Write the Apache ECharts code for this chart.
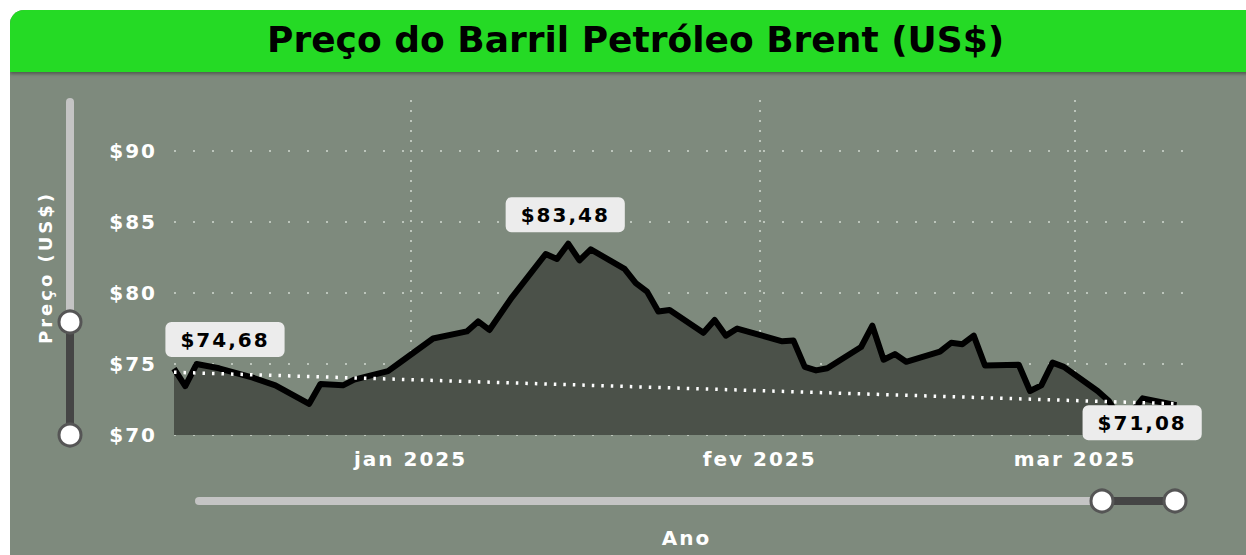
<!DOCTYPE html>
<html>
<head>
<meta charset="utf-8">
<title>Preço do Barril Petróleo Brent</title>
<script src="https://cdn.jsdelivr.net/npm/echarts@6/dist/echarts.min.js"></script>
<style>
  html, body { margin: 0; padding: 0; background: #fff; overflow: hidden; }
  .card { position: absolute; left: 10px; top: 10px; width: 1250px; height: 560px; background: #7e8a7d; border-radius: 14px 14px 0 0; overflow: hidden; }
  .head { height: 62px; background: #25da25; box-shadow: 0 2px 3px rgba(0,0,0,.35); }
  #chart { position: absolute; left: 0; top: 0; width: 1246px; height: 555px; }
</style>
</head>
<body>
<div class="card"><div class="head"></div></div>
<div id="chart"></div>
<script type="text/javascript">
  // cotações diárias
  var dates = [
    '2024-12-11', '2024-12-12', '2024-12-13', '2024-12-15', '2024-12-18', '2024-12-20',
    '2024-12-23', '2024-12-24', '2024-12-26', '2024-12-27', '2024-12-30', '2024-12-31',
    '2025-01-03', '2025-01-06', '2025-01-07', '2025-01-08', '2025-01-10', '2025-01-13',
    '2025-01-14', '2025-01-15', '2025-01-16', '2025-01-17', '2025-01-20', '2025-01-21',
    '2025-01-22', '2025-01-23', '2025-01-24', '2025-01-27', '2025-01-28', '2025-01-29',
    '2025-01-30', '2025-02-03', '2025-02-04', '2025-02-05', '2025-02-06', '2025-02-07',
    '2025-02-10', '2025-02-11', '2025-02-12', '2025-02-13', '2025-02-14', '2025-02-17',
    '2025-02-18', '2025-02-19', '2025-02-20', '2025-02-21', '2025-02-24', '2025-02-25',
    '2025-02-26', '2025-02-27', '2025-02-28', '2025-03-03', '2025-03-04', '2025-03-05',
    '2025-03-06', '2025-03-07', '2025-03-10'
  ];
  var prices = [
    74.68, 73.45, 75.00, 74.70, 74.04, 73.50,
    72.20, 73.60, 73.50, 73.90, 74.50, 75.07,
    76.80, 77.30, 78.00, 77.40, 79.70, 82.75,
    82.40, 83.48, 82.30, 83.08, 81.70, 80.70,
    80.10, 78.70, 78.80, 77.20, 78.10, 77.00,
    77.50, 76.60, 76.65, 74.80, 74.55, 74.70,
    76.20, 77.70, 75.30, 75.70, 75.16, 75.87,
    76.50, 76.40, 77.00, 74.90, 74.95, 73.10,
    73.50, 75.10, 74.80, 73.10, 72.40, 71.08,
    71.60, 72.58, 72.10
  ];
  // linha de tendência (início, fim)
  var trend = [74.42, 72.20];
  var xRange = ['2024-12-11', '2025-03-12'];
  var monthTicks = ['2025-01-01', '2025-02-01', '2025-03-01'];
  var monthNames = ['jan', 'fev', 'mar', 'abr', 'mai', 'jun', 'jul', 'ago', 'set', 'out', 'nov', 'dez'];
  var titleText = 'Preço do Barril Petróleo Brent (US$)';
  var yName = 'Preço (US$)';
  var xName = 'Ano';

  var font = 'DejaVu Sans';
  var lastIdx = dates.length - 1;

  function toTime(s) {
    return new Date(s + 'T00:00:00').getTime();
  }
  function money(v) {
    return '$' + v.toFixed(2).replace('.', ',');
  }

  var seriesData = dates.map(function (d, i) { return [toTime(d), prices[i]]; });

  var labelBox = {
    show: true,
    color: '#000',
    fontFamily: font,
    fontWeight: 'bold',
    fontSize: 20,
    backgroundColor: '#ececec',
    borderRadius: 6,
    padding: [8, 21, 7, 21],
    formatter: function (p) { return money(p.value); }
  };

  var myChart = echarts.init(document.getElementById('chart'), null, { renderer: 'svg' });

  var option = {
    animation: false,
    title: {
      text: titleText,
      left: 267,
      top: 21,
      padding: 0,
      textStyle: { color: '#000', fontFamily: font, fontWeight: 'bold', fontSize: 36 }
    },
    grid: { left: 174, right: 47, top: 100, bottom: 120 },
    xAxis: {
      // eixo de valores com datas em ms, para ter as linhas só no início de cada mês
      type: 'value',
      min: toTime(xRange[0]),
      max: toTime(xRange[1]),
      name: xName,
      nameLocation: 'middle',
      nameGap: 93,
      nameTextStyle: { color: '#fff', fontFamily: font, fontWeight: 'bold', fontSize: 20 },
      axisLine: { show: false },
      axisTick: { show: false, customValues: monthTicks.map(toTime) },
      axisLabel: {
        customValues: monthTicks.map(toTime),
        color: '#fff',
        fontFamily: font,
        fontWeight: 'bold',
        fontSize: 20,
        margin: 14,
        formatter: function (v) {
          var d = new Date(v);
          return monthNames[d.getMonth()] + ' ' + d.getFullYear();
        }
      },
      splitLine: {
        show: true,
        lineStyle: { color: 'rgba(215,222,214,0.7)', width: 2, type: [2, 8] }
      }
    },
    yAxis: {
      type: 'value',
      min: 70,
      max: 93.6,
      interval: 5,
      name: yName,
      nameLocation: 'middle',
      nameRotate: 90,
      nameGap: 120,
      nameTextStyle: { color: '#fff', fontFamily: font, fontWeight: 'bold', fontSize: 18 },
      axisLine: { show: false },
      axisTick: { show: false },
      axisLabel: {
        showMaxLabel: false,
        color: '#fff',
        fontFamily: font,
        fontWeight: 'bold',
        fontSize: 20,
        margin: 17,
        formatter: function (v) { return '$' + v; }
      },
      splitLine: {
        show: true,
        showMaxLine: false,
        lineStyle: { color: 'rgba(215,222,214,0.7)', width: 2, type: [2, 17] }
      }
    },
    series: [
      {
        type: 'line',
        data: seriesData,
        symbol: 'none',
        lineStyle: { color: '#000', width: 6, join: 'round' },
        areaStyle: { color: '#4b5149', opacity: 1 },
        markLine: {
          silent: true,
          symbol: ['none', 'none'],
          label: { show: false },
          lineStyle: { color: '#fff', width: 3.5, type: [2.5, 7] },
          data: [[
            { coord: [toTime(dates[0]), trend[0]] },
            { coord: [toTime(dates[lastIdx]), trend[1]] }
          ]]
        },
        markPoint: {
          symbol: 'circle',
          symbolSize: 1,
          itemStyle: { color: 'rgba(0,0,0,0)' },
          data: [
            { coord: [toTime(dates[0]), prices[0]], value: prices[0], label: Object.assign({}, labelBox, { offset: [51, -29] }) },
            { type: 'max', label: Object.assign({}, labelBox, { offset: [-3, -29] }) },
            { type: 'min', label: Object.assign({}, labelBox, { offset: [22, 3] }) }
          ]
        }
      }
    ],
    graphic: [
      // controle vertical (eixo de preço)
      { type: 'rect', z: 100, shape: { x: 66, y: 98, width: 8, height: 228, r: 4 }, style: { fill: '#c4c4c4' } },
      { type: 'rect', z: 100, shape: { x: 66, y: 322, width: 8, height: 113 }, style: { fill: '#454545' } },
      { type: 'circle', z: 101, shape: { cx: 70, cy: 322, r: 11 }, style: { fill: '#fff', stroke: '#555', lineWidth: 3 } },
      { type: 'circle', z: 101, shape: { cx: 70, cy: 435, r: 11 }, style: { fill: '#fff', stroke: '#555', lineWidth: 3 } },
      // controle horizontal (datas)
      { type: 'rect', z: 100, shape: { x: 195, y: 497, width: 910, height: 8, r: 4 }, style: { fill: '#c4c4c4' } },
      { type: 'rect', z: 100, shape: { x: 1102, y: 497, width: 73, height: 8 }, style: { fill: '#454545' } },
      { type: 'circle', z: 101, shape: { cx: 1102, cy: 501, r: 11 }, style: { fill: '#fff', stroke: '#555', lineWidth: 3 } },
      { type: 'circle', z: 101, shape: { cx: 1175, cy: 501, r: 11 }, style: { fill: '#fff', stroke: '#555', lineWidth: 3 } }
    ]
  };

  myChart.setOption(option);

  // espaçamento entre letras nos rótulos (o svg aceita letter-spacing)
  function spaceLetters() {
    document.querySelectorAll('#chart svg text').forEach(function (t) {
      var s = t.textContent;
      if (s === titleText) return;
      t.setAttribute('letter-spacing', s === yName ? '3px' : '2px');
    });
  }
  spaceLetters();
  myChart.on('finished', spaceLetters);
</script>
</body>
</html>
